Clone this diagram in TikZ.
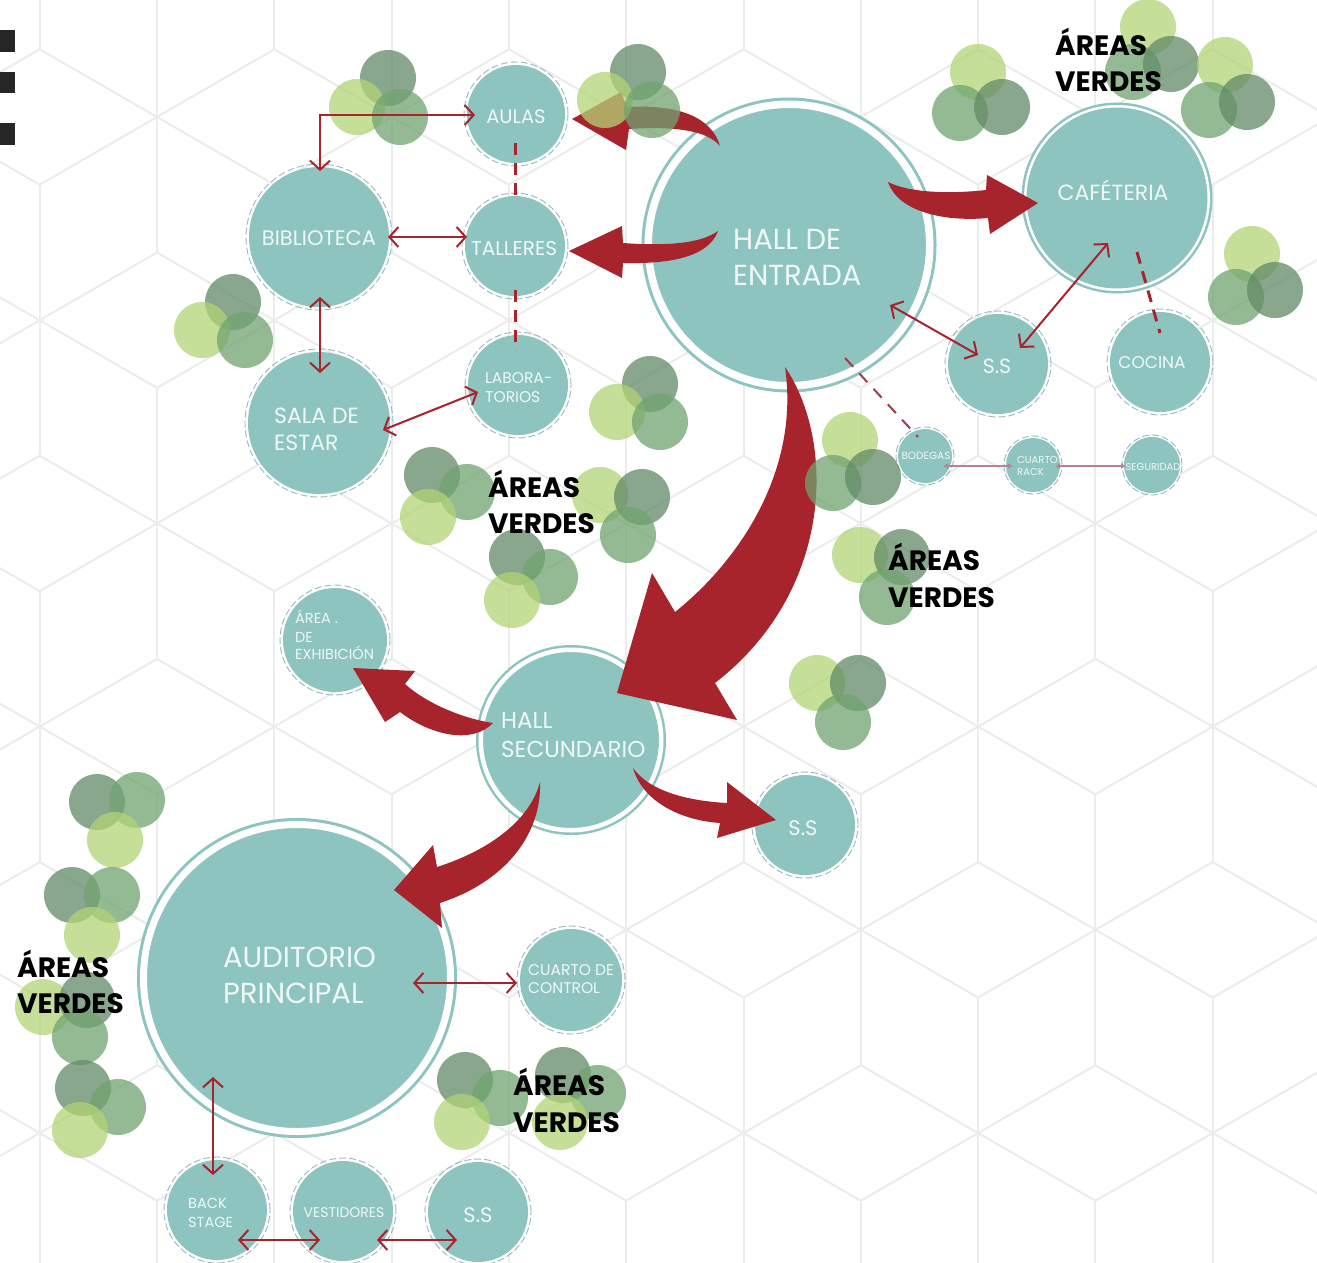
\documentclass[tikz,border=0pt]{standalone}
\usepackage{fontspec}
\setmainfont{Poppins}
\usetikzlibrary{arrows.meta,calc}

\definecolor{teal1}{RGB}{141,196,192}
\definecolor{ringdash}{RGB}{150,185,190}
\definecolor{red1}{RGB}{167,36,44}
\definecolor{reddash}{RGB}{160,60,78}
\definecolor{mauve}{RGB}{185,130,150}
\definecolor{hexgray}{RGB}{236,236,236}
\definecolor{leafL}{RGB}{178,211,118}
\definecolor{leafM}{RGB}{112,163,112}
\definecolor{leafD}{RGB}{98,138,102}
\definecolor{lbltext}{RGB}{240,248,247}
\definecolor{markgray}{RGB}{38,38,38}

\tikzset{
  room/.style={circle, fill=teal1, inner sep=0pt, minimum size=#1},
  bigroom/.style={circle, fill=teal1, draw=teal1, double=white, inner sep=0pt},
  dring/.style={draw=ringdash, line width=0.9pt, dash pattern=on 7pt off 3pt},
  link/.style={draw=red1, line width=2pt,
    {Straight Barb[length=9pt,width=20pt]}-{Straight Barb[length=9pt,width=20pt]}},
  dlink/.style={draw=red1, line width=3pt, dash pattern=on 12pt off 8pt},
  tlink/.style={draw=reddash, line width=2pt, dash pattern=on 12pt off 9pt},
  slink/.style={draw=mauve, line width=1.3pt,
    {Latex[length=5pt,width=6pt]}-{Latex[length=5pt,width=6pt]}},
  fat/.style={fill=red1},
  fs/.style={font=\fontsize{#1}{#1}\selectfont},
  lbl/.style={text=lbltext, inner sep=0pt},
  areaTxt/.style={font=\bfseries\fontsize{28}{28}\selectfont, text=black, inner sep=0pt, anchor=base west},
  hexline/.style={draw=hexgray, line width=2pt},
  treeL/.style={fill=leafL, fill opacity=0.75},
  treeM/.style={fill=leafM, fill opacity=0.75},
  treeD/.style={fill=leafD, fill opacity=0.75},
}
\newcommand\leaf[2]{\fill[#1] (#2) circle[radius=28pt];}

\begin{document}
\begin{tikzpicture}[x=1pt,y=-1pt]
\useasboundingbox (0,0) rectangle (1317,1262);
\fill[white] (0,0) rectangle (1317,1262);

% tumbling-blocks background
\begin{scope}
  \clip (0,0) rectangle (1317,1262);
  \foreach \k in {-1,...,6}{
    \foreach \i in {-1,...,5}{
      \pgfmathsetmacro\cx{157+234.6*\i+117.3*mod(\k+2,2)}
      \pgfmathsetmacro\cy{117+203.2*\k}
      \foreach \a in {30,90,...,330}{
        \draw[hexline] (\cx,\cy) -- ++(\a:135.4);
      }
    }
  }
\end{scope}

% margin marks
\fill[markgray] (0,30) rectangle (15,52);
\fill[markgray] (0,72) rectangle (15,93);
\fill[markgray] (0,123) rectangle (15,145);

% rooms
\node[room=98pt]  (aulas) at (516,114) {};
\node[room=100pt] (tall)  at (515,246) {};
\node[room=100pt] (labs)  at (518,385) {};
\node[room=140pt] (bib)   at (319,237) {};
\node[room=142pt] (sala)  at (319,423) {};
\node[bigroom, minimum size=281.5pt, line width=3pt, double distance=7.5pt] (hall) at (789,245) {};
\node[bigroom, minimum size=183.5pt, line width=2.5pt, double distance=2.5pt] (caf) at (1117,198) {};
\node[room=100pt] (ssA)   at (998,364) {};
\node[room=100pt] (coc)   at (1160,362) {};
\node[room=54pt]  (bod)   at (925,456) {};
\node[room=54pt]  (rack)  at (1033,465) {};
\node[room=56pt]  (seg)   at (1152,465) {};
\node[room=104pt] (exh)   at (335,640) {};
\node[bigroom, minimum size=180.5pt, line width=2.5pt, double distance=4.5pt] (hsec) at (571,740) {};
\node[room=100pt] (ssM)   at (805,825) {};
\node[bigroom, minimum size=307pt, line width=3pt, double distance=7pt] (aud) at (297,978) {};
\node[room=102pt] (ctrl)  at (571,980) {};
\node[room=100pt] (back)  at (217,1210) {};
\node[room=100pt] (vest)  at (343,1211) {};
\node[room=100pt] (ssB)   at (478,1212) {};

% dashed outlines of the small rooms
\foreach \n/\r in {aulas/52,tall/53,labs/53,bib/73,sala/74,ssA/53,coc/53,bod/29,rack/29,seg/30,
                   exh/55,ssM/53,ctrl/54,back/53,vest/53,ssB/53}{
  \draw[dring] (\n.center) circle[radius=\r pt];
}

% main flows
\fill[fat] (720,146) .. controls (712,118) and (680,104) .. (627,107)
  -- (621,92) -- (572,119) -- (626,150) -- (629,129)
  .. controls (672,126) and (707,130) .. (720,146) -- cycle;
\fill[fat] (718,231) .. controls (700,244) and (665,246) .. (623,243)
  -- (622,226) -- (569,251) -- (622,278) -- (623,263)
  .. controls (668,264) and (708,258) .. (718,231) -- cycle;
\fill[fat] (888,182) .. controls (910,193) and (950,194) .. (986,190)
  -- (987,175) -- (1038,203) -- (990,234) -- (988,218)
  .. controls (945,222) and (898,212) .. (888,182) -- cycle;
\fill[fat] (785,367) .. controls (835,440) and (835,590) .. (715,683)
  -- (737,720) -- (617,693) -- (652,573) -- (675,612)
  .. controls (740,560) and (800,470) .. (785,367) -- cycle;
\fill[fat] (493,723) .. controls (460,718) and (425,702) .. (405,684)
  -- (415,671) -- (353,668) -- (385,722) -- (400,712)
  .. controls (430,735) and (472,745) .. (493,723) -- cycle;
\fill[fat] (633,768) .. controls (650,792) and (690,801) .. (727,803)
  -- (727,782) -- (776,820) -- (717,838) -- (720,823)
  .. controls (678,820) and (642,800) .. (633,768) -- cycle;
\fill[fat] (540,782) .. controls (542,830) and (510,880) .. (440,903)
  -- (442,928) -- (394,890) -- (433,845) -- (437,867)
  .. controls (490,850) and (530,820) .. (540,782) -- cycle;

% green areas
\leaf{treeD}{388,78}  \leaf{treeL}{357,107} \leaf{treeM}{400,117}
\leaf{treeD}{638,72}  \leaf{treeL}{605,100} \leaf{treeM}{652,110}
\leaf{treeL}{978,72}  \leaf{treeM}{960,113} \leaf{treeD}{1002,107}
\leaf{treeL}{1148,27} \leaf{treeM}{1133,72} \leaf{treeD}{1171,64}
\leaf{treeL}{1225,65} \leaf{treeM}{1209,110} \leaf{treeD}{1247,102}
\leaf{treeL}{1252,254} \leaf{treeM}{1236,297} \leaf{treeD}{1275,290}
\leaf{treeD}{233,302} \leaf{treeL}{202,330} \leaf{treeM}{245,340}
\leaf{treeD}{650,384} \leaf{treeL}{617,412} \leaf{treeM}{660,422}
\leaf{treeD}{432,475} \leaf{treeM}{467,492} \leaf{treeL}{428,517}
\leaf{treeL}{600,495} \leaf{treeD}{642,497} \leaf{treeM}{628,535}
\leaf{treeD}{517,557} \leaf{treeM}{550,577} \leaf{treeL}{512,600}
\leaf{treeL}{850,440} \leaf{treeM}{833,483} \leaf{treeD}{873,477}
\leaf{treeL}{860,555} \leaf{treeD}{902,557} \leaf{treeM}{887,597}
\leaf{treeL}{817,683} \leaf{treeD}{858,683} \leaf{treeM}{843,722}
\leaf{treeD}{97,802}  \leaf{treeM}{137,800} \leaf{treeL}{115,840}
\leaf{treeD}{72,895}  \leaf{treeM}{112,895} \leaf{treeL}{92,935}
\leaf{treeL}{43,1007} \leaf{treeD}{87,1000} \leaf{treeM}{80,1037}
\leaf{treeD}{83,1088} \leaf{treeM}{118,1107} \leaf{treeL}{80,1130}
\leaf{treeD}{465,1080} \leaf{treeM}{500,1098} \leaf{treeL}{462,1122}
\leaf{treeD}{563,1075} \leaf{treeM}{598,1093} \leaf{treeL}{560,1122}

% secondary links
\draw[link] ($(bib.center)+(1,-66)$) |- ($(aulas.center)+(-41,1)$);
\draw[link] ($(bib.center)+(69,0)$) -- ($(tall.center)+(-48,-9)$);
\draw[link] ($(bib.center)+(1,60)$) -- ($(sala.center)+(1,-50)$);
\draw[link] ($(sala.center)+(64,7)$) -- ($(labs.center)+(-40,7)$);
\draw[dlink] ($(aulas.center)+(-1,29)$) -- ($(tall.center)+(0,-46)$);
\draw[dlink] ($(tall.center)+(0,44)$) -- ($(labs.center)+(-3,-35)$);
\draw[link] ($(hall.center)+(101,60)$) -- ($(ssA.center)+(-20,-9)$);
\draw[link] ($(caf.center)+(-9,45)$) -- ($(ssA.center)+(22,-16)$);
\draw[dlink] ($(caf.center)+(20,54)$) -- ($(coc.center)+(0,-29)$);
\draw[tlink] ($(hall.center)+(56,113)$) -- ($(bod.center)+(-7,-19)$);
\draw[slink] ($(bod.center)+(18,10)$) -- ($(rack.center)+(-20,1)$);
\draw[slink] ($(rack.center)+(22,1)$) -- ($(seg.center)+(-26,1)$);
\draw[link] ($(aud.center)+(116,5)$) -- ($(ctrl.center)+(-54,3)$);
\draw[link] ($(aud.center)+(-84,99)$) -- ($(back.center)+(-4,-35)$);
\draw[link] ($(back.center)+(21,30)$) -- ($(vest.center)+(-23,29)$);
\draw[link] ($(vest.center)+(34,29)$) -- ($(ssB.center)+(-21,28)$);

% room names
\node[lbl,fs=19.5,anchor=base] (aulasT) at (516,123) {AULAS};
\node[lbl,fs=20,anchor=base] (tallT) at (514,255) {TALLERES};
\node[lbl,fs=21,anchor=base] (bibT) at (319,245) {BIBLIOTECA};
\node[lbl,fs=15.5,anchor=base west] (labsT1) at (485,383) {LABORA-};
\node[lbl,fs=15.5,anchor=base west] (labsT2) at (485,402) {TORIOS};
\node[lbl,fs=22,anchor=base west] (salaT1) at (274,423) {SALA DE};
\node[lbl,fs=22,anchor=base west] (salaT2) at (274,450) {ESTAR};
\node[lbl,fs=29,anchor=base west] (hallT1) at (733,249) {HALL DE};
\node[lbl,fs=29,anchor=base west] (hallT2) at (733,285) {ENTRADA};
\node[lbl,fs=22,anchor=base] (cafT) at (1113,200) {CAFÉTERIA};
\node[lbl,fs=20.5,anchor=base] (ssAT) at (997,373) {S.S};
\node[lbl,fs=17,anchor=base] (cocT) at (1152,368) {COCINA};
\node[lbl,fs=10.5,anchor=base] (bodT) at (926,459) {BODEGAS};
\node[lbl,fs=10,anchor=base west] (rackT1) at (1017,463) {CUARTO};
\node[lbl,fs=10,anchor=base west] (rackT2) at (1017,475) {RACK};
\node[lbl,fs=10,anchor=base] (segT) at (1153,470) {SEGURIDAD};
\node[lbl,fs=14.5,anchor=base west] (exhT1) at (295,623) {ÁREA .};
\node[lbl,fs=14.5,anchor=base west] (exhT2) at (295,642) {DE};
\node[lbl,fs=14.5,anchor=base west] (exhT3) at (295,659) {EXHIBICIÓN};
\node[lbl,fs=23,anchor=base west] (hsecT1) at (501,728) {HALL};
\node[lbl,fs=23,anchor=base west] (hsecT2) at (501,757) {SECUNDARIO};
\node[lbl,fs=21,anchor=base] (ssMT) at (803,835) {S.S};
\node[lbl,fs=29,anchor=base west] (audT1) at (223,967) {AUDITORIO};
\node[lbl,fs=29,anchor=base west] (audT2) at (223,1003) {PRINCIPAL};
\node[lbl,fs=15.5,anchor=base west] (ctrlT1) at (528,975) {CUARTO DE};
\node[lbl,fs=15.5,anchor=base west] (ctrlT2) at (528,993) {CONTROL};
\node[lbl,fs=14.5,anchor=base west] (backT1) at (188,1208) {BACK};
\node[lbl,fs=14.5,anchor=base west] (backT2) at (188,1227) {STAGE};
\node[lbl,fs=14,anchor=base] (vestT) at (344,1217) {VESTIDORES};
\node[lbl,fs=21,anchor=base] (ssBT) at (478,1222) {S.S};

% green area captions
\node[areaTxt] (av1a) at (1055,55) {ÁREAS};
\node[areaTxt] (av1b) at (1055,91) {VERDES};
\node[areaTxt] (av2a) at (488,497) {ÁREAS};
\node[areaTxt] (av2b) at (488,533) {VERDES};
\node[areaTxt] (av3a) at (888,570) {ÁREAS};
\node[areaTxt] (av3b) at (888,607) {VERDES};
\node[areaTxt] (av4a) at (17,977) {ÁREAS};
\node[areaTxt] (av4b) at (17,1013) {VERDES};
\node[areaTxt] (av5a) at (513,1095) {ÁREAS};
\node[areaTxt] (av5b) at (513,1132) {VERDES};
\end{tikzpicture}
\end{document}
